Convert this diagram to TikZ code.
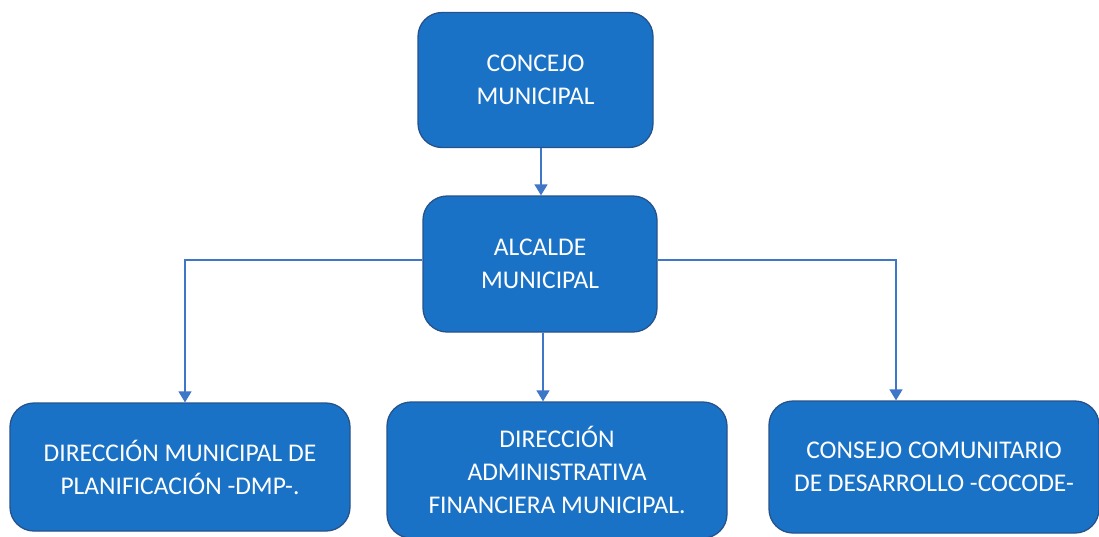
\documentclass[tikz,border=0pt]{standalone}
\usepackage{fontspec}
\setmainfont{Carlito}
\usetikzlibrary{arrows.meta,calc}
\definecolor{boxfill}{RGB}{26,114,198}
\definecolor{boxline}{RGB}{38,82,140}
\definecolor{conn}{RGB}{62,118,200}
\begin{document}
\begin{tikzpicture}[x=1pt,y=-1pt,
  orgbox/.style={draw=boxline,line width=1.3pt,fill=boxfill,rounded corners=24pt,
    text=white,align=center,inner sep=0pt,
    font=\fontsize{25.5}{33}\selectfont},
  link/.style={draw=conn,line width=1.3pt,-{Triangle[width=13pt,length=11pt]}}]
\useasboundingbox (0,0) rectangle (1099,536);
\fill[white] (0,0) rectangle (1099,536);
\node[orgbox,minimum width=235pt,minimum height=135pt] (concejo) at (535.5,80) {CONCEJO\\MUNICIPAL};
\node[orgbox,minimum width=234pt,minimum height=136pt] (alcalde) at (540,264) {ALCALDE\\MUNICIPAL};
\node[orgbox,minimum width=340pt,minimum height=128pt] (dmp) at (180,467) {DIRECCIÓN MUNICIPAL DE\\PLANIFICACIÓN -DMP-.};
\node[orgbox,minimum width=340pt,minimum height=136pt] (dafm) at (557,470) {DIRECCIÓN\\ADMINISTRATIVA\\FINANCIERA MUNICIPAL.};
\node[orgbox,minimum width=330pt,minimum height=132pt] (cocode) at (934,467) {CONSEJO COMUNITARIO\\DE DESARROLLO -COCODE-};
\draw[link] ([xshift=5.5pt]concejo.south) -- ([xshift=1pt]alcalde.north);
\draw[link] ([yshift=4pt]alcalde.west) -| ([xshift=5pt]dmp.north);
\draw[link] ([yshift=4pt]alcalde.east) -| ([xshift=-38pt]cocode.north);
\draw[link] ([xshift=3pt]alcalde.south) -- ([xshift=3pt]alcalde.south |- dafm.north);
\end{tikzpicture}
\end{document}
